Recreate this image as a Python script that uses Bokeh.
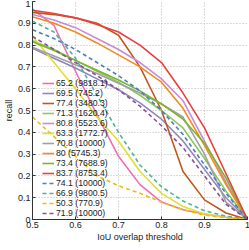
from bokeh.plotting import figure
from bokeh.models import Legend, LegendItem, FixedTicker, Range1d
from bokeh.embed import file_html
from bokeh.resources import INLINE

iou = [0.5, 0.55, 0.6, 0.65, 0.7, 0.75, 0.8, 0.85, 0.9, 0.95, 1.0]

labels = ["65.2 (9818.1)", "69.5 (745.2)", "77.4 (3480.3)", "71.3 (1620.4)",
          "80.8 (5523.6)", "63.3 (1772.7)", "70.8 (10000)", "80 (5745.3)",
          "73.4 (7688.9)", "83.7 (8753.4)", "74.1 (10000)", "66.9 (9800.5)",
          "50.3 (770.9)", "71.9 (10000)"]

r_pink   = [0.965, 0.89, 0.68, 0.48, 0.29, 0.16, 0.08, 0.045, 0.025, 0.01, 0.0]
r_purple = [0.785, 0.74, 0.695, 0.645, 0.595, 0.535, 0.46, 0.36, 0.23, 0.10, 0.0]
r_brown  = [0.95, 0.94, 0.925, 0.90, 0.845, 0.70, 0.50, 0.22, 0.09, 0.03, 0.0]
r_lgreen = [0.82, 0.78, 0.73, 0.68, 0.63, 0.57, 0.50, 0.42, 0.28, 0.13, 0.0]
r_lilac  = [0.94, 0.915, 0.88, 0.83, 0.78, 0.72, 0.645, 0.545, 0.36, 0.17, 0.0]
r_yellow = [0.84, 0.72, 0.60, 0.47, 0.36, 0.22, 0.12, 0.06, 0.025, 0.01, 0.0]
r_gray   = [0.79, 0.75, 0.71, 0.67, 0.625, 0.58, 0.53, 0.47, 0.30, 0.08, 0.0]
r_orange = [0.93, 0.90, 0.86, 0.81, 0.755, 0.70, 0.63, 0.51, 0.34, 0.16, 0.0]
r_green  = [0.815, 0.775, 0.73, 0.685, 0.64, 0.59, 0.53, 0.46, 0.35, 0.19, 0.0]
r_red    = [0.96, 0.945, 0.925, 0.895, 0.86, 0.80, 0.72, 0.58, 0.42, 0.21, 0.0]
r_blue_d = [0.87, 0.83, 0.78, 0.72, 0.66, 0.59, 0.50, 0.39, 0.25, 0.12, 0.0]
r_teal_d = [0.91, 0.86, 0.74, 0.57, 0.40, 0.25, 0.15, 0.085, 0.04, 0.015, 0.0]
r_yel_d  = [0.47, 0.38, 0.29, 0.20, 0.155, 0.12, 0.08, 0.045, 0.02, 0.008, 0.0]
r_purp_d = [0.84, 0.78, 0.72, 0.66, 0.595, 0.52, 0.43, 0.33, 0.20, 0.07, 0.0]

series = [r_pink, r_purple, r_brown, r_lgreen, r_lilac, r_yellow, r_gray,
          r_orange, r_green, r_red, r_blue_d, r_teal_d, r_yel_d, r_purp_d]
colors = ["#f06eb0", "#8d87c0", "#c0581e", "#8dc863", "#c98bd6", "#e0e030",
          "#a0a0a0", "#f08c1e", "#7ab52a", "#e84040", "#4a80b8", "#50b0a0",
          "#e8c010", "#8a5098"]
dashed = [False] * 10 + [True] * 4

ticks_x = [0.5, 0.6, 0.7, 0.8, 0.9, 1.0]
ticks_y = [0, 0.1, 0.2, 0.3, 0.4, 0.5, 0.6, 0.7, 0.8, 0.9, 1.0]

p = figure(frame_width=215, frame_height=218, output_backend="svg",
           toolbar_location=None,
           x_range=Range1d(0.5, 1.0), y_range=Range1d(0, 1.0),
           min_border_left=0, min_border_top=1, min_border_right=5,
           min_border_bottom=0)
p.outline_line_color = None
p.background_fill_color = "white"

items = []
for lab, ys, c, d in zip(labels, series, colors, dashed):
    r = p.line(iou, ys, line_color=c, line_width=1.6,
               line_dash="4 3" if d else "solid")
    items.append(LegendItem(label=lab, renderers=[r]))

legend = Legend(items=items, location=(10, 1), padding=0, margin=0, spacing=0,
                label_height=10, glyph_height=10, glyph_width=12,
                label_standoff=2, label_text_font_size="8.7px",
                label_text_font="Liberation Sans", label_text_color="#222222",
                border_line_color=None, background_fill_alpha=0)
p.add_layout(legend, "center")

for ax in (p.xaxis[0], p.yaxis[0]):
    ax.major_tick_in = 3
    ax.major_tick_out = 0
    ax.minor_tick_in = 0
    ax.minor_tick_out = 0
    ax.axis_line_color = "#333333"
    ax.major_tick_line_color = "#333333"
    ax.major_label_text_font = "Liberation Sans"
    ax.major_label_text_font_size = "9px"
    ax.major_label_text_color = "#222222"
    ax.axis_label_text_font = "Liberation Sans"
    ax.axis_label_text_font_size = "9px"
    ax.axis_label_text_font_style = "normal"
    ax.axis_label_text_color = "#222222"
    ax.major_label_standoff = 2
    ax.axis_label_standoff = 1

p.xaxis.ticker = FixedTicker(ticks=ticks_x)
p.yaxis.ticker = FixedTicker(ticks=ticks_y)
p.xaxis.axis_label = "IoU overlap threshold"
p.yaxis.axis_label = "recall"
p.xaxis.major_label_overrides = {1.0: "1"}
p.yaxis.major_label_overrides = {0: "0", 1.0: "1"}

p.grid.grid_line_color = "#b8b8b8"
p.grid.grid_line_dash = "1 2"
p.grid.grid_line_width = 1

open("out.html", "w").write(file_html(p, INLINE))
